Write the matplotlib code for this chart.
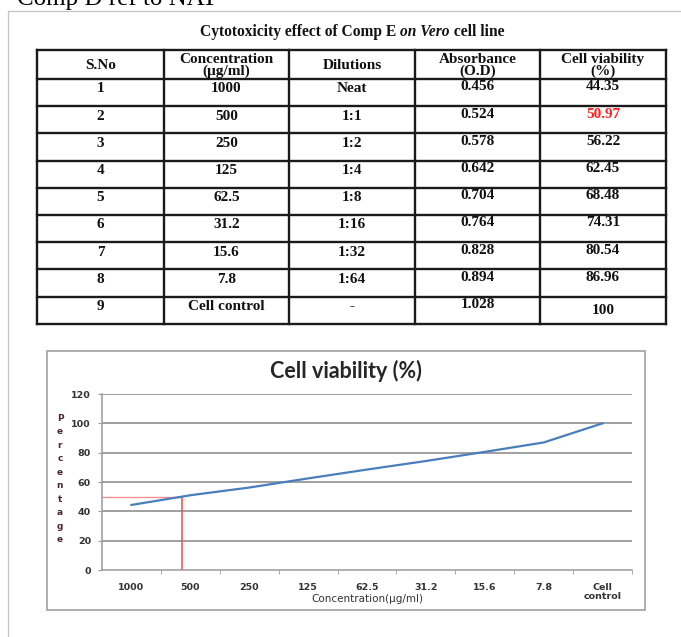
import matplotlib
matplotlib.use('agg')
import matplotlib.pyplot as plt
import numpy as np
from matplotlib.patches import Rectangle

# table / chart data
sno = [1, 2, 3, 4, 5, 6, 7, 8, 9]
conc_labels = ["1000", "500", "250", "125", "62.5", "31.2", "15.6", "7.8", "Cell control"]
dilutions = ["Neat", "1:1", "1:2", "1:4", "1:8", "1:16", "1:32", "1:64", "-"]
absorbance = [0.456, 0.524, 0.578, 0.642, 0.704, 0.764, 0.828, 0.894, 1.028]
viability = [44.35, 50.97, 56.22, 62.45, 68.48, 74.31, 80.54, 86.96, 100]
headers = ["S.No", "Concentration\n(\u00b5g/ml)", "Dilutions", "Absorbance\n(O.D)", "Cell viability\n(%)"]

W, H = 681, 637

fig = plt.figure(figsize=(W / 100, H / 100), dpi=100)
fig.patch.set_facecolor('white')

# overlay in pixel coords for the page / table
over = fig.add_axes([0, 0, 1, 1])
over.set_xlim(0, W)
over.set_ylim(H, 0)
over.axis('off')

# heading of the page, cut by the top edge like in the source
over.text(17, 5, "Comp D ref to NAT", family='Liberation Serif', fontsize=18,
          va='baseline', ha='left', color='black', clip_on=False)
over.add_patch(Rectangle((8, 11), W, H, fill=False, ec='#c4c4c4', lw=0.9))

# table title, mixed upright / italic pieces laid side by side
parts = [("Cytotoxicity effect of Comp E ", 'normal'), ("on Vero", 'italic'), (" cell line", 'normal')]
fig.canvas.draw()
rend = fig.canvas.get_renderer()
pieces = []
total = 0
for txt, st in parts:
    t = over.text(0, 32, txt, family='Liberation Serif', weight='bold', style=st,
                  fontsize=11.2, ha='left', va='center', color='#111111')
    w = t.get_window_extent(rend).width
    pieces.append((t, w))
    total += w
xpos = 352 - total / 2
for t, w in pieces:
    t.set_x(xpos)
    xpos += w

col_x = [37, 164, 289, 415, 540, 666]
top, head_bot, row_h = 50, 79, 27.2
row_y = [head_bot + i * row_h for i in range(len(sno) + 1)]
bottom = row_y[-1]
lc = '#1a1a1a'
for x in col_x:
    over.plot([x, x], [top, bottom], color=lc, lw=1.7, solid_capstyle='projecting')
for y in [top] + row_y:
    over.plot([col_x[0], col_x[-1]], [y, y], color=lc, lw=1.7, solid_capstyle='projecting')

centers = [(col_x[i] + col_x[i + 1]) / 2 for i in range(5)]
tfont = dict(family='Liberation Serif', weight='bold', fontsize=11, color='#111111')
for c, h in zip(centers, headers):
    over.text(c, (top + head_bot) / 2 + 1, h, ha='center', va='center', linespacing=0.9, **tfont)

hi = int(np.argmin(np.abs(np.array(viability) - 50)))
for i in range(len(sno)):
    t = row_y[i]
    over.text(centers[0], t + 10, str(sno[i]), ha='center', va='center', **tfont)
    over.text(centers[1], t + 10, conc_labels[i], ha='center', va='center', **tfont)
    over.text(centers[2], t + 10, dilutions[i], ha='center', va='center', **tfont)
    over.text(centers[3], t + 8, f"{absorbance[i]:.3f}", ha='center', va='center', **tfont)
    vy = t + 14 if i == len(sno) - 1 else t + 8
    vf = dict(tfont)
    if i == hi:
        vf['color'] = '#ff2222'
    over.text(centers[4], vy, f"{viability[i]:g}", ha='center', va='center', **vf)

# chart frame
over.add_patch(Rectangle((47, 351), 645 - 47, 610 - 351, fill=False, ec='#a8a8a8', lw=1.3))
over.text(346, 371, "Cell viability (%)", family='Lato', weight='bold', fontsize=15.5,
          ha='center', va='center', color='#262626')

# chart
x0, x1, y0, y1 = 102, 632, 394, 570
ax = fig.add_axes([x0 / W, 1 - y1 / H, (x1 - x0) / W, (y1 - y0) / H])
ax.set_facecolor('none')
xs = np.arange(len(viability))
ax.set_xlim(-0.5, len(viability) - 0.5)
ax.set_ylim(0, 120)
ax.set_yticks(range(0, 121, 20))
for yv in range(20, 121, 20):
    ax.axhline(yv, color='#8f8f8f', lw=1.2, zorder=1)
ax.plot(xs, viability, color='#4a7ebb', lw=1.6, zorder=3)

# 50% cut-off guide
ic50_x = np.interp(50, viability, xs)
ax.plot([-0.5, ic50_x], [50, 50], color='#f29090', lw=1.0, zorder=2)
ax.plot([ic50_x, ic50_x], [0, 50], color='#f04848', lw=1.1, zorder=2)

for s in ['top', 'right']:
    ax.spines[s].set_visible(False)
for s in ['left', 'bottom']:
    ax.spines[s].set_color('#9a9a9a')
    ax.spines[s].set_linewidth(1.1)

ax.set_xticks(xs)
ax.set_xticklabels([c.replace(' ', '\n') for c in conc_labels])
ax.set_xticks(np.arange(0.5, len(viability) - 0.5 + 0.01, 1), minor=True)
ax.tick_params(axis='x', which='major', length=0, pad=9)
ax.tick_params(axis='x', which='minor', length=3, color='#9a9a9a', direction='out')
ax.tick_params(axis='y', length=3, color='#9a9a9a', pad=5)
for lab in ax.get_xticklabels() + ax.get_yticklabels():
    lab.set_family('DejaVu Sans')
    lab.set_fontweight('bold')
    lab.set_fontsize(6.8)
    lab.set_color('#333333')
for lab in ax.get_xticklabels():
    lab.set_linespacing(1.05)

ax.set_xlabel("Concentration(\u00b5g/ml)", family='DejaVu Sans', fontsize=7.5, color='#333333')
ax.xaxis.set_label_coords(0.5, -(599 - y1) / (y1 - y0), transform=ax.transAxes)
ax.xaxis.label.set_va('center')

ax.set_ylabel("\n".join("Percentage"), rotation=0, family='DejaVu Sans', weight='bold',
              fontsize=6.5, color='#4a2828', linespacing=1.65, va='center', ha='center')
ax.yaxis.set_label_coords((60 - x0) / (x1 - x0), (y1 - 479) / (y1 - y0))

fig.savefig('out.png', dpi=100)
